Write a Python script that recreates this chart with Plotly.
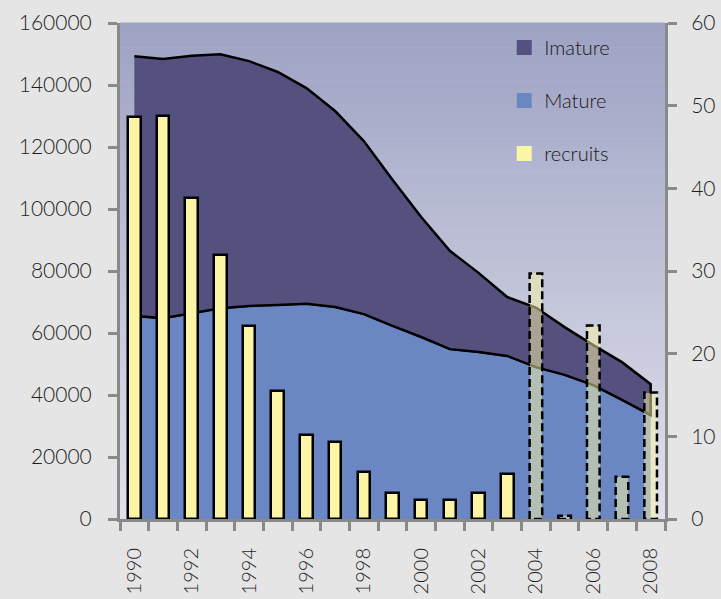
import plotly.graph_objects as go

# ---- data -------------------------------------------------------------
years = list(range(1990, 2009))

# stock components (left axis), stacked: Mature at the bottom, Imature above
mature = [65500, 64800, 66400, 68000, 68700, 69000, 69400, 68400, 66100, 62300,
          58700, 54800, 53900, 52600, 49000, 46500, 43200, 38400, 33500]
imature = [83800, 83600, 83000, 81900, 79000, 75200, 69600, 63200, 55800, 47100,
           38700, 31700, 25500, 19000, 19200, 15400, 12900, 12200, 10000]

# recruits (right axis); the last years are drawn with a dashed outline
recruits = [48.6, 48.7, 38.8, 31.9, 23.3, 15.5, 10.2, 9.3, 5.7, 3.2,
            2.3, 2.3, 3.2, 5.4, 29.7, 0.4, 23.4, 5.1, 15.3]
dashed_from = 2004

left_ticks = list(range(0, 160001, 20000))
right_ticks = list(range(0, 61, 10))
label_years = [y for y in years if y % 2 == 0]

# ---- styling ------------------------------------------------------------
FONT = "Lato"
C_IMAT = "#55517f"
C_MAT = "#6b87c3"
C_REC = "#fbf5a5"
C_REC_T = "rgba(251,245,165,0.5)"
AXIS_GREY = "#8a8a8a"
TXT = "#1e1e1e"
BAR_W = 0.44

fig = go.Figure()

# stacked areas
total = [m + i for m, i in zip(mature, imature)]
fig.add_trace(go.Scatter(
    x=years, y=mature, mode="lines", fill="tozeroy", fillcolor=C_MAT,
    line=dict(color="black", width=2), showlegend=False, hoverinfo="skip",
    yaxis="y"))
fig.add_trace(go.Scatter(
    x=years + years[::-1], y=total + mature[::-1], mode="lines", fill="toself",
    fillcolor=C_IMAT, line=dict(color="black", width=2.5), showlegend=False,
    hoverinfo="skip", yaxis="y"))

# recruits bars
solid = [(y, r) for y, r in zip(years, recruits) if y < dashed_from]
dashed = [(y, r) for y, r in zip(years, recruits) if y >= dashed_from]
fig.add_trace(go.Bar(
    x=[y for y, _ in solid], y=[r for _, r in solid], width=BAR_W,
    marker=dict(color=C_REC, line=dict(color="black", width=2.5)),
    showlegend=False, yaxis="y2"))
fig.add_trace(go.Bar(
    x=[y for y, _ in dashed], y=[r for _, r in dashed], width=BAR_W,
    marker=dict(color=C_REC_T, line=dict(width=0)),
    showlegend=False, yaxis="y2"))
ox, oy = [], []
for y, r in dashed:
    h = BAR_W / 2
    ox += [y - h, y - h, y + h, y + h, y - h, None]
    oy += [0, r, r, 0, 0, None]
fig.add_trace(go.Scatter(
    x=ox, y=oy, mode="lines", line=dict(color="black", width=2.5, dash="8px,4px"),
    showlegend=False, hoverinfo="skip", yaxis="y2"))

# legend entries (square swatches)
for name, col in [("Imature", C_IMAT), ("Mature", C_MAT), ("recruits", C_REC)]:
    fig.add_trace(go.Scatter(x=[None], y=[None], name=name, mode="markers",
                             marker=dict(color=col, symbol="square", size=15),
                             legendgroup=name, yaxis="y2"))

# vertical gradient behind the plot area
top_c = (158, 162, 195)
bot_c = (225, 226, 236)
n = 60
for k in range(n):
    t = (k + 0.5) / n
    c = tuple(round(a + (b - a) * t) for a, b in zip(top_c, bot_c))
    fig.add_shape(type="rect", xref="x domain", yref="y domain",
                  x0=0, x1=1, y0=1 - (k + 1) / n, y1=1 - k / n + 0.001,
                  fillcolor="rgb(%d,%d,%d)" % c, line=dict(width=0), layer="below")

fig.update_layout(
    width=721, height=599,
    margin=dict(l=120, r=56, t=23, b=80),
    paper_bgcolor="#e5e5e5", plot_bgcolor="rgba(0,0,0,0)",
    font=dict(family=FONT, color=TXT, size=21, weight=300),
    barmode="overlay", bargap=0,
    legend=dict(x=0.705, y=0.99, xanchor="left", yanchor="top",
                bgcolor="rgba(0,0,0,0)",
                font=dict(size=20, color="#1a1a1a", weight=300),
                tracegroupgap=24, traceorder="grouped"),
    xaxis=dict(
        range=[years[0] - 0.5, years[-1] + 0.5], tickmode="array",
        tickvals=label_years, ticktext=[str(y) for y in label_years],
        tickfont=dict(size=20), tickangle=-90, ticks="", ticklabelstandoff=18,
        showgrid=False, showline=True, linecolor=AXIS_GREY, linewidth=3,
        zeroline=False, automargin=False,
        minor=dict(tickmode="array",
                   tickvals=[y - 0.5 for y in years] + [years[-1] + 0.5],
                   ticks="outside", ticklen=9, tickwidth=3, tickcolor=AXIS_GREY,
                   showgrid=False)),
    yaxis=dict(
        range=[0, 160000], tickmode="array", tickvals=left_ticks,
        ticktext=[str(v) for v in left_ticks],
        ticks="outside", ticklen=9, tickwidth=3, tickcolor=AXIS_GREY,
        showline=True, linecolor=AXIS_GREY, linewidth=3, showgrid=False,
        zeroline=False, ticklabelstandoff=12, automargin=False),
    yaxis2=dict(
        range=[0, 60], tickmode="array", tickvals=right_ticks, overlaying="y",
        side="right", ticks="outside", ticklen=9, tickwidth=3,
        tickcolor=AXIS_GREY, showline=True, linecolor=AXIS_GREY, linewidth=3,
        showgrid=False, zeroline=False, ticklabelstandoff=10, automargin=False),
)

fig.write_html("out.html")
